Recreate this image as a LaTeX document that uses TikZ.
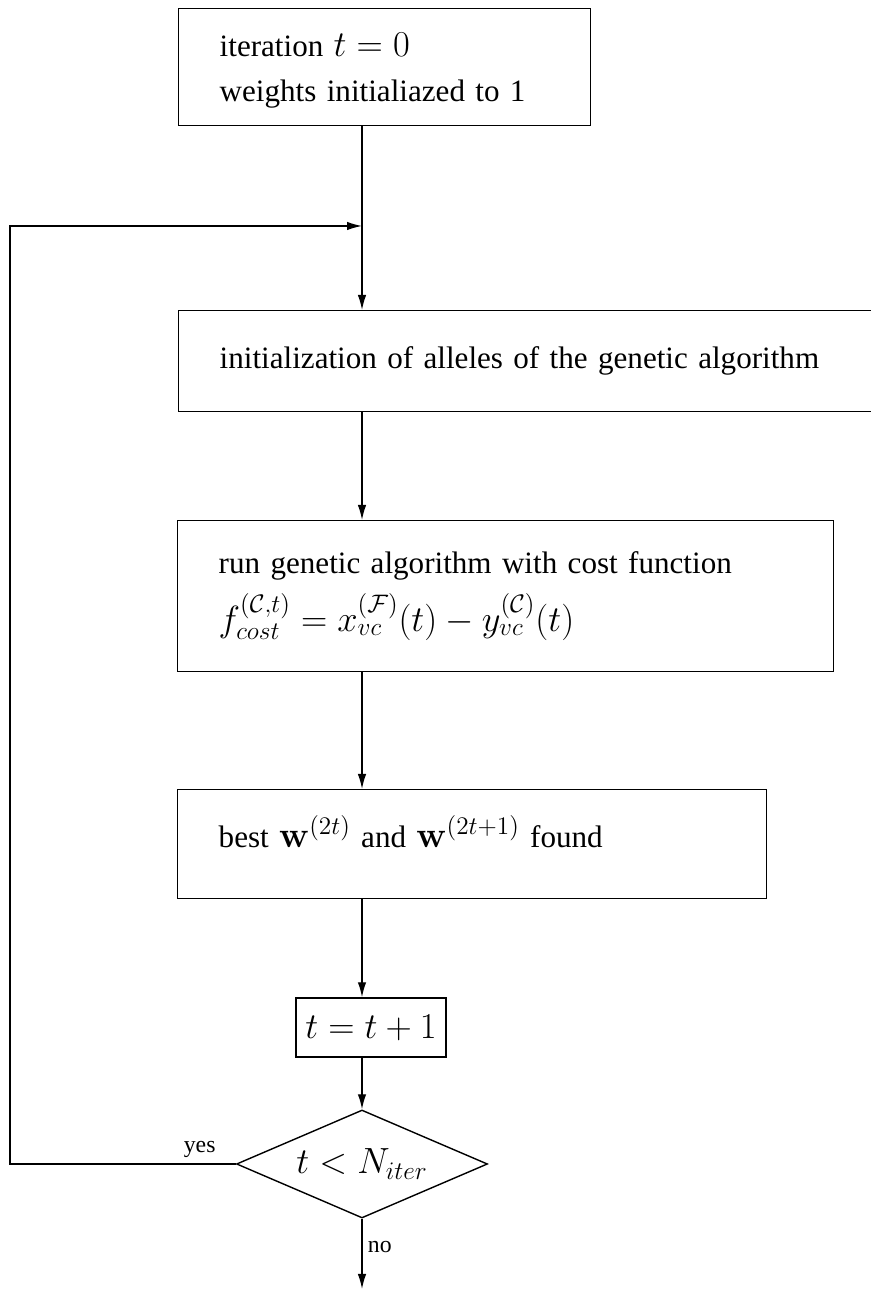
\documentclass[tikz,border=0pt]{standalone}
\usepackage[no-math]{fontspec}
\setmainfont{Liberation Serif}
\usepackage{amsmath}
\usepackage{amssymb}
\DeclareMathSizes{17.7}{20}{14}{10}
\usepackage{tikz}
\usetikzlibrary{calc}
\usetikzlibrary{arrows.meta,shapes.geometric}

\begin{document}
\begin{tikzpicture}[
        x=1cm,
        y=1cm,
        every node/.style={font=\fontsize{17.7}{20}\selectfont},
        process box/.style={
            draw,rectangle,anchor=north west,align=left,
            inner xsep=0.82cm,inner ysep=0pt,line width=0.8pt
        },
        flow line/.style={line width=0.8pt,-{Latex[length=0.3cm,width=0.17cm]}},
        test vertex/.style={
            diamond,draw,line width=0.8pt,inner sep=0pt,shape aspect=2.32,
            minimum width=5.02cm,minimum height=2.16cm
        },
        branch label/.style={font=\fontsize{13.5}{15}\selectfont,inner sep=3pt}
    ]
        \useasboundingbox (0,0) rectangle (17.4,25.78);

        % The column on which all the arrows run.
        \coordinate (spine) at (7.24,0);
        \coordinate (loopjoin) at (7.24,21.26);
        \coordinate (loopcorner) at (0.2,21.26);

        % The steps of the procedure, top to bottom.
        \node[process box,text width=6.6cm,minimum height=2.34cm]
            (initbox) at (3.56,25.62)
            {\rule{0pt}{0.62cm}iteration $t=0$\\[0.2cm]weights initialiazed to 1};
        \node[process box,text width=12.8cm,minimum height=2.02cm]
            (allelebox) at (3.56,19.58)
            {initialization of alleles of the genetic algorithm};
        \node[process box,text width=11.48cm,minimum height=3.02cm]
            (runbox) at (3.54,15.38)
            {run genetic algorithm with cost function\\[0.22cm]
             $f^{(\mathcal{C},t)}_{cost}=x^{(\mathcal{F})}_{vc}(t)-y^{(\mathcal{C})}_{vc}(t)$};
        \node[process box,text width=10.14cm,minimum height=2.18cm,
              text height=0.45cm,text depth=0.31cm]
            (bestbox) at (3.54,10.0)
            {best $\mathbf{w}^{(2t)}$ and $\mathbf{w}^{(2t+1)}$ found};
        \node[draw,line width=0.8pt,minimum width=3.0cm,minimum height=1.18cm]
            (stepbox) at (7.42,5.23) {$t=t+1$};
        \node[test vertex] (testnode) at (7.24,2.5) {$t<N_{iter}$};

        % Arrows down the spine.
        \draw[flow line] (initbox.south -| spine) -- (allelebox.north -| spine);
        \draw[flow line] (allelebox.south -| spine) -- (runbox.north -| spine);
        \draw[flow line] (runbox.south -| spine) -- (bestbox.north -| spine);
        \draw[flow line] (bestbox.south -| spine) -- (stepbox.north -| spine);
        \draw[flow line] (stepbox.south -| spine) -- (testnode.north);

        % The two branches of the test.
        \draw[flow line]
            (testnode.west)
            -- node[branch label,above,pos=0.16] {yes} (testnode.west -| loopcorner)
            -- (loopcorner) -- (loopjoin);
        \draw[flow line]
            (testnode.south) -- node[branch label,right,pos=0.4] {no} (spine);
    \end{tikzpicture}
\end{document}
